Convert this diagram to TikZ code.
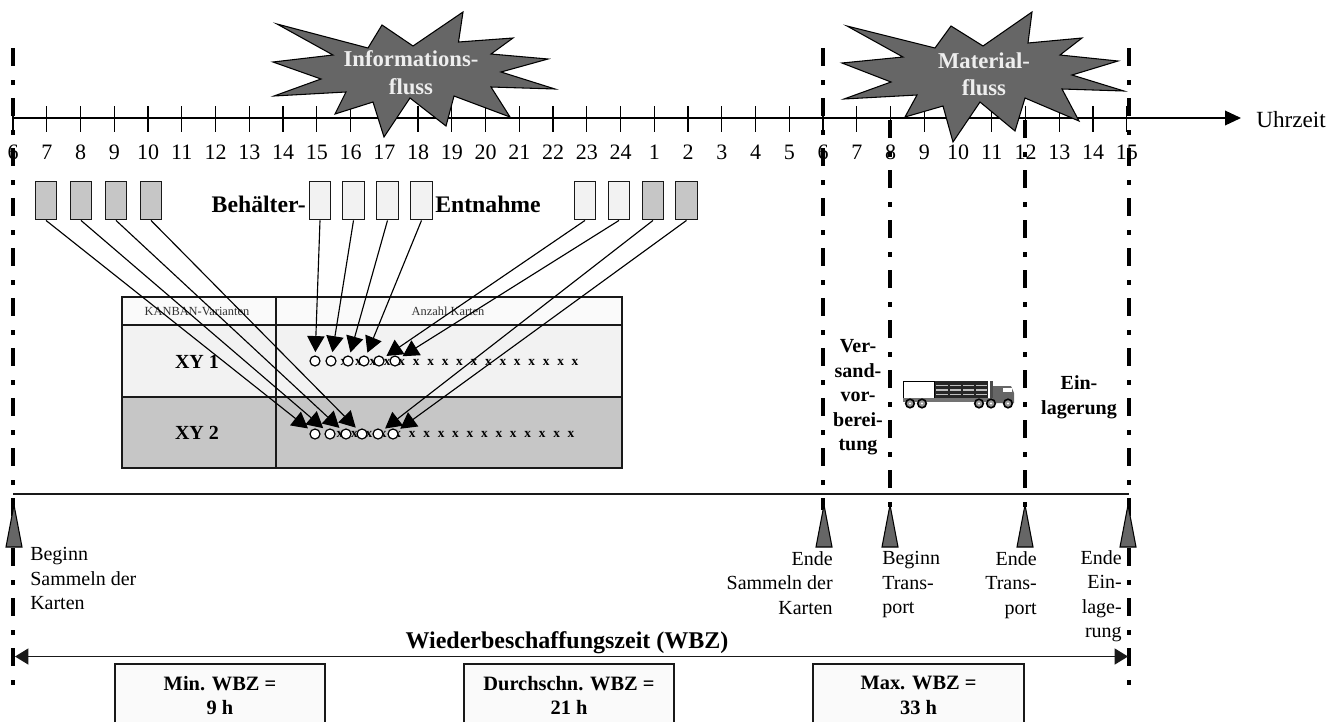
\documentclass[tikz,border=0pt]{standalone}
\usepackage{fontspec}
\setmainfont{Liberation Serif}
\usepackage{xcolor}
\usepackage{tikz}
\usetikzlibrary{arrows.meta}
\definecolor{starfill}{RGB}{102,102,102}
\definecolor{startext}{RGB}{238,238,238}
\definecolor{darkbox}{RGB}{198,198,198}
\definecolor{midbox}{RGB}{242,242,242}
\definecolor{palebox}{RGB}{250,250,250}
\definecolor{inkline}{RGB}{25,25,25}

\begin{document}
\begin{tikzpicture}[
  x=0.75pt, y=-0.75pt,
  phase/.style={line width=3.6pt, dash pattern=on 13.5pt off 10.5pt on 3.4pt off 10.1pt},
  burst/.style={draw=black, fill=starfill, line width=0.8pt, line join=miter},
  burstlabel/.style={font=\fontsize{17}{20.5}\selectfont\bfseries, text=startext, align=center, inner sep=0pt},
  hour/.style={font=\fontsize{16.5}{19}\selectfont, inner sep=0pt},
  bin/.style={draw=inkline, line width=0.9pt, minimum width=16pt, minimum height=29pt, inner sep=0pt},
  bindark/.style={bin, fill=darkbox},
  binpale/.style={bin, fill=midbox},
  card/.style={circle, draw=black, fill=white, line width=0.9pt, minimum size=7.5pt, inner sep=0pt},
  cross/.style={font=\fontsize{10}{12}\selectfont\bfseries, inner sep=0pt},
  pull/.style={-{Triangle[length=12pt, width=13pt]}, line width=0.85pt, shorten >=2.5pt},
  cell/.style={draw=inkline, line width=1.1pt},
  rowhead/.style={font=\fontsize{15}{18}\selectfont\bfseries, inner sep=0pt},
  tabhead/.style={font=\fontsize{9.3}{11}\selectfont, inner sep=0pt, text=black!80},
  stage/.style={font=\fontsize{15}{18.4}\selectfont\bfseries, align=center, inner sep=0pt},
  event/.style={font=\fontsize{15}{18.4}\selectfont, inner sep=0pt},
  marker/.style={draw=black, fill=starfill, line width=0.8pt, line join=miter},
  span/.style={{Triangle[length=10pt, width=12pt]}-{Triangle[length=10pt, width=12pt]}, line width=1pt, draw=inkline},
  wbzbox/.style={font=\fontsize{15.3}{18.6}\selectfont\bfseries, align=center, inner sep=0pt},
]
  \useasboundingbox (0,0) rectangle (1342,722);

  \foreach \k in {0,...,33} {
    \pgfmathtruncatemacro{\hr}{mod(\k+5,24)+1}
    \draw[line width=0.8pt] ({13+33.75*\k},106) -- ({13+33.75*\k},132);
    \node[hour] (h\k) at ({13+33.75*\k},152) {\hr};
  }
  \node[font=\fontsize{17.4}{20}\selectfont, inner sep=0pt, anchor=west] (uhrzeit) at (1256,120) {Uhrzeit};
  \coordinate (axisstart) at (13,118);
  \coordinate (axisend) at (1241,118);
  \draw[-{Triangle[length=12pt, width=11pt]}, line width=1.1pt] (axisstart) -- (axisend);

  \draw[phase] (13,48) -- (13,686);
  \draw[phase] (823,48) -- (823,510);
  \draw[phase] (1129,48) -- (1129,686);
  \draw[phase] (890,120) -- (890,510);
  \draw[phase] (1025,120) -- (1025,510);

  \draw[burst] (277,24) -- (368,48) -- (382,25) -- (413,46) -- (463,12) -- (458.5,42)
    -- (513,38) -- (491,54) -- (548,59) -- (501,72) -- (555,89) -- (491,87) -- (510,117)
    -- (454,96) -- (446,126) -- (410,98) -- (384,137) -- (373,102) -- (335,114) -- (346,92)
    -- (274,96) -- (321,79) -- (273,62) -- (333,55) -- cycle;
  \node[burstlabel] (infoflow) at (411,72.5) {Informations-\\fluss};

  \draw[burst] (847,26) -- (935,48) -- (951,26) -- (983,46) -- (1032,12) -- (1028,43)
    -- (1082,38) -- (1060,55) -- (1118,61) -- (1072,75) -- (1124,91) -- (1062,89) -- (1079,121)
    -- (1025,98) -- (1015,131) -- (980,102) -- (953,142) -- (943,106) -- (905,117) -- (917,95)
    -- (844,99) -- (891,82) -- (842,63) -- (903,57) -- cycle;
  \node[burstlabel] (matflow) at (984,74.5) {Material-\\fluss};

  \node[bindark] (b1) at (46,200.5) {};
  \node[bindark] (b2) at (81,200.5) {};
  \node[bindark] (b3) at (116,200.5) {};
  \node[bindark] (b4) at (151,200.5) {};
  \node[binpale] (b5) at (320,200.5) {};
  \node[binpale] (b6) at (353.5,200.5) {};
  \node[binpale] (b7) at (387.5,200.5) {};
  \node[binpale] (b8) at (421.5,200.5) {};
  \node[binpale] (b9) at (585,200.5) {};
  \node[binpale] (b10) at (619,200.5) {};
  \node[bindark] (b11) at (653,200.5) {};
  \node[bindark] (b12) at (686.5,200.5) {};
  \node[font=\fontsize{17.8}{21}\selectfont\bfseries, inner sep=0pt, anchor=east] (behaelter) at (306,204) {Behälter-};
  \node[font=\fontsize{17.8}{21}\selectfont\bfseries, inner sep=0pt, anchor=west] (entnahme) at (435,204) {Entnahme};

  \draw[cell, fill=palebox] (122,297) rectangle (622,325);
  \draw[cell, fill=midbox] (122,325) rectangle (622,397);
  \draw[cell, fill=darkbox] (122,397) rectangle (622,468);
  \draw[inkline, line width=1.8pt] (276,297) -- (276,468);
  \draw[inkline, line width=1.6pt] (122,397) -- (622,397);
  \node[tabhead] (kanban) at (197,311) {KANBAN-Varianten};
  \node[tabhead] (anzahl) at (448,311) {Anzahl Karten};
  \node[rowhead] (xy1) at (197,362) {XY 1};
  \node[rowhead] (xy2) at (197,433) {XY 2};

  \foreach \n in {0,...,16} {
    \node[cross] (xa\n) at ({344+14.44*\n},362) {x};
    \node[cross] (xb\n) at ({340+14.44*\n},434) {x};
  }

  \node[card] (ca1) at (315,361) {};
  \node[card] (ca2) at (331,361) {};
  \node[card] (ca3) at (348,361) {};
  \node[card] (ca4) at (364,361) {};
  \node[card] (ca5) at (379,361) {};
  \node[card] (ca6) at (395,361) {};
  \node[card] (cb1) at (315,434) {};
  \node[card] (cb2) at (330,434) {};
  \node[card] (cb3) at (346,434) {};
  \node[card] (cb4) at (362,434) {};
  \node[card] (cb5) at (378,434) {};
  \node[card] (cb6) at (393,434) {};

  \draw[pull] (b1.south) -- (cb1);
  \draw[pull] (b2.south) -- (cb2);
  \draw[pull] (b3.south) -- (cb3);
  \draw[pull] (b4.south) -- (cb4);
  \draw[pull] (b5.south) -- (ca1);
  \draw[pull] (b6.south) -- (ca2);
  \draw[pull] (b7.south) -- (ca3);
  \draw[pull] (b8.south) -- (ca4);
  \draw[pull] (b9.south) -- (ca5);
  \draw[pull] (b10.south) -- (ca6);
  \draw[pull] (b11.south) -- (cb5);
  \draw[pull] (b12.south) -- (cb6);

  \node[stage] (versand) at (858,397.5) {Ver-\\sand-\\vor-\\berei-\\tung};
  \node[stage] (einlagerung) at (1079,397) {Ein-\\lagerung};

  \draw[line width=0.7pt, fill=white] (903,381) rectangle (934,398);
  \fill[black!85] (935,381) rectangle (988,398);
  \foreach \y in {384.5,389,393.5}
    \fill[black!25] (936,\y) rectangle (987,\y+1.6);
  \foreach \x in {948,961,974}
    \fill[black!85] (\x,381) rectangle (\x+1.5,398);
  \fill[black!55] (903,398) rectangle (994,402);
  \fill[black!70] (990,381) rectangle (993,398);
  \fill[starfill] (993,386) -- (1011,386) -- (1014,393) -- (1014,403) -- (993,403) -- cycle;
  \fill[white] (1003,388) rectangle (1012,392);
  \foreach \x in {910,922,979,991,1008} {
    \draw[black, line width=1.2pt, fill=black!40] (\x,403.5) circle (3.2pt);
    \fill[white] (\x,403.5) circle (0.8pt);
  }

  \draw[inkline, line width=1.1pt] (13,494) -- (1129,494);

  \foreach \x in {14,824,890,1025,1128}
    \draw[marker] (\x,505) -- (\x+8,547) -- (\x-8,547) -- cycle;

  \node[event, anchor=north west, align=left] (begsammeln) at (30,547) {Beginn\\Sammeln der\\Karten};
  \node[event, anchor=north east, align=right] (endsammeln) at (833,551) {Ende\\Sammeln der\\Karten};
  \node[event, anchor=north west, align=left] (begtrans) at (882,551) {Beginn\\Trans-\\port};
  \node[event, anchor=north east, align=right] (endtrans) at (1037,551) {Ende\\Trans-\\port};
  \node[event, anchor=north east, align=right] (endein) at (1122,550) {Ende\\Ein-\\lage-\\rung};

  \node[font=\fontsize{18}{21}\selectfont\bfseries, inner sep=0pt] (wbz) at (567,643) {Wiederbeschaffungszeit (WBZ)};
  \coordinate (wbzleft) at (15,656.5);
  \coordinate (wbzright) at (1128,656.5);
  \draw[span] (wbzleft) -- (wbzright);

  \foreach \xl/\xr in {115/325,464/674,813/1024} {
    \fill[palebox] (\xl,664) rectangle (\xr,722);
    \draw[inkline, line width=0.9pt] (\xl,722) -- (\xl,664) -- (\xr,664) -- (\xr,722);
  }
  \node[wbzbox] (minwbz) at (220,695.5) {Min. WBZ =\\9 h};
  \node[wbzbox] (avgwbz) at (569,695.5) {Durchschn. WBZ =\\21 h};
  \node[wbzbox] (maxwbz) at (918.5,695.5) {Max. WBZ =\\33 h};
\end{tikzpicture}
\end{document}
